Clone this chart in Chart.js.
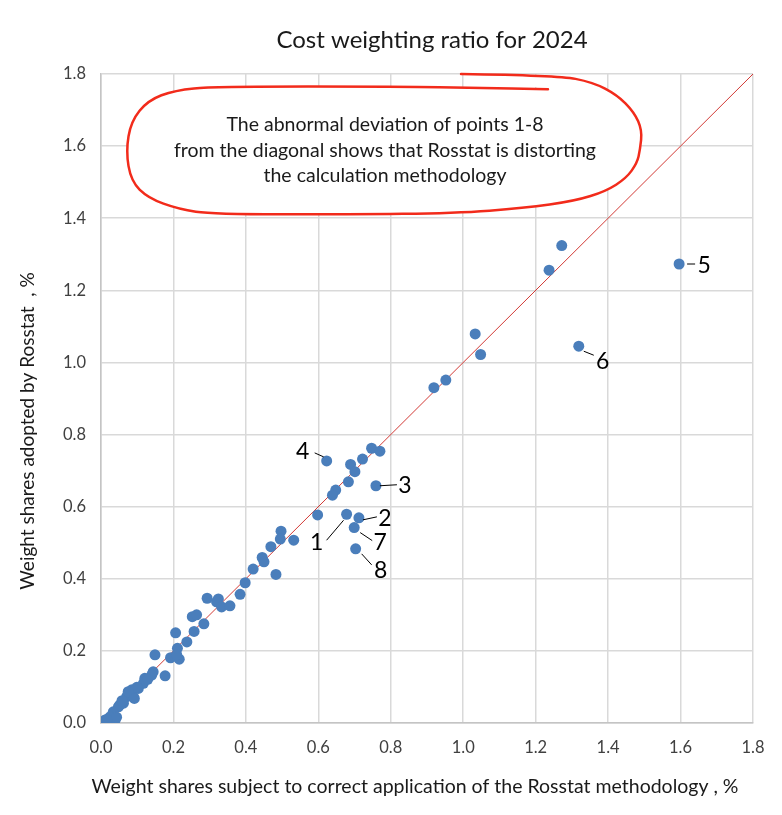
<!DOCTYPE html>
<html>
<head>
<meta charset="utf-8">
<script src="https://cdn.jsdelivr.net/npm/chart.js@4.4.1/dist/chart.umd.min.js"></script>
<style>
  html, body { margin: 0; padding: 0; background: #fff; }
  canvas { display: block; }
</style>
</head>
<body>
<canvas id="myChart" width="782" height="815" style="width:782px;height:815px"></canvas>
<script>
// Точки 1-8 (подписанные) идут первыми
const pointNames = ['1', '2', '3', '4', '5', '6', '7', '8'];

const correctShares = [
    0.678, 0.712, 0.759, 0.623, 1.596, 1.319, 0.699, 0.703,
    1.272, 1.237, 1.033, 1.048, 0.952, 0.919, 0.747, 0.770, 0.722, 0.689,
    0.701, 0.683, 0.648, 0.639, 0.598, 0.497, 0.495, 0.532, 0.469, 0.445,
    0.450, 0.420, 0.483, 0.398, 0.384, 0.324, 0.293, 0.319, 0.333, 0.356,
    0.252, 0.264, 0.284, 0.257, 0.206, 0.237, 0.211, 0.216, 0.192, 0.149,
    0.177, 0.144, 0.140, 0.121, 0.117, 0.103, 0.085, 0.089, 0.071, 0.062,
    0.048, 0.034, 0.025, 0.011, 0.003, 0.039, 0.209, 0.129, 0.099, 0.075,
    0.092, 0.052, 0.043, 0.016, 0.058
];

const rosstatShares = [
    0.579, 0.569, 0.658, 0.727, 1.273, 1.045, 0.542, 0.483,
    1.324, 1.256, 1.079, 1.022, 0.951, 0.930, 0.762, 0.754, 0.732, 0.717,
    0.697, 0.669, 0.646, 0.632, 0.577, 0.532, 0.510, 0.507, 0.489, 0.459,
    0.447, 0.427, 0.412, 0.389, 0.357, 0.344, 0.346, 0.336, 0.322, 0.325,
    0.295, 0.300, 0.275, 0.254, 0.250, 0.225, 0.207, 0.177, 0.181, 0.189,
    0.131, 0.142, 0.133, 0.124, 0.110, 0.096, 0.092, 0.073, 0.073, 0.055,
    0.045, 0.031, 0.017, 0.008, 0.001, 0.008, 0.189, 0.121, 0.099, 0.087,
    0.068, 0.050, 0.016, 0.010, 0.062
];

const diagonal = [0, 1.8];
const axisTicks = ['0.0', '0.2', '0.4', '0.6', '0.8', '1.0', '1.2', '1.4', '1.6', '1.8'];

const noteLines = [
    'The abnormal deviation of points 1-8',
    'from the diagonal shows that Rosstat is distorting',
    'the calculation methodology'
];

// Контур выноски (в единицах осей)
const noteOutline = [
    [0.994, 1.800], [1.262, 1.796], [1.358, 1.777], [1.425, 1.742], [1.472, 1.694],
    [1.494, 1.644], [1.488, 1.589], [1.480, 1.553], [1.450, 1.511], [1.394, 1.475],
    [1.309, 1.448], [1.168, 1.428], [0.977, 1.414], [0.690, 1.411], [0.309, 1.411],
    [0.215, 1.425], [0.130, 1.456], [0.083, 1.503], [0.069, 1.586], [0.083, 1.669],
    [0.130, 1.727], [0.204, 1.755], [0.309, 1.765], [0.834, 1.765], [1.033, 1.761],
    [1.234, 1.758]
];

const FONT = 'Lato, "Open Sans", sans-serif';

// смещения выносок подписей в пикселях: линия от, линия до, текст
const labelOffsets = [
    [-3, 6, -20, 26, -30, 28],
    [4, 2, 18, -1, 26, 1],
    [4, 0, 21, -1, 29, 0],
    [-3, -4, -12, -8, -24, -9],
    [8, 0, 16, 0, 25, 2],
    [5, 5, 15, 9, 24, 15],
    [6, 5, 18, 13, 26, 15],
    [6, 5, 16, 16, 25, 22]
];

function smoothPath(ctx, pts) {
    ctx.moveTo(pts[0][0], pts[0][1]);
    for (let i = 1; i < pts.length - 1; i++) {
        const mx = (pts[i][0] + pts[i + 1][0]) / 2;
        const my = (pts[i][1] + pts[i + 1][1]) / 2;
        ctx.quadraticCurveTo(pts[i][0], pts[i][1], mx, my);
    }
    const last = pts[pts.length - 1];
    ctx.lineTo(last[0], last[1]);
}

const decor = {
    id: 'decor',
    beforeDatasetsDraw(chart) {
        const ctx = chart.ctx;
        const sx = chart.scales.x, sy = chart.scales.y;
        const pts = noteOutline.map(p => [sx.getPixelForValue(p[0]), sy.getPixelForValue(p[1])]);
        ctx.save();
        ctx.beginPath();
        smoothPath(ctx, pts);
        ctx.closePath();
        ctx.fillStyle = '#ffffff';
        ctx.fill();
        ctx.beginPath();
        smoothPath(ctx, pts);
        ctx.strokeStyle = '#f22b1b';
        ctx.lineWidth = 2.5;
        ctx.lineJoin = 'round';
        ctx.lineCap = 'round';
        ctx.stroke();

        ctx.fillStyle = '#1a1a1a';
        ctx.font = '19.5px ' + FONT;
        ctx.textAlign = 'center';
        ctx.textBaseline = 'middle';
        const cx = sx.getPixelForValue(0.784);
        const cy = sy.getPixelForValue(1.658);
        noteLines.forEach((t, i) => ctx.fillText(t, cx, cy + i * 25.5));
        ctx.restore();
    },
    afterDatasetsDraw(chart) {
        const ctx = chart.ctx;
        const meta = chart.getDatasetMeta(0);
        ctx.save();
        ctx.strokeStyle = '#000';
        ctx.lineWidth = 1;
        ctx.fillStyle = '#000';
        ctx.font = '23px ' + FONT;
        ctx.textAlign = 'center';
        ctx.textBaseline = 'middle';
        pointNames.forEach((name, i) => {
            const el = meta.data[i];
            const o = labelOffsets[i];
            ctx.beginPath();
            ctx.moveTo(el.x + o[0], el.y + o[1]);
            ctx.lineTo(el.x + o[2], el.y + o[3]);
            ctx.stroke();
            ctx.fillText(name, el.x + o[4], el.y + o[5]);
        });
        ctx.restore();
    },
    afterDraw(chart) {
        const ctx = chart.ctx;
        ctx.save();
        ctx.fillStyle = '#1a1a1a';
        ctx.textAlign = 'center';
        ctx.textBaseline = 'middle';
        ctx.font = '24px ' + FONT;
        ctx.fillText('Cost weighting ratio for 2024', 432, 40);
        ctx.font = '19.5px ' + FONT;
        ctx.fillText('Weight shares subject to correct application of the Rosstat methodology , %', 415, 787);
        ctx.translate(28, 431);
        ctx.rotate(-Math.PI / 2);
        ctx.font = '19px ' + FONT;
        ctx.fillText('Weight shares adopted by Rosstat  , %', 0, 0);
        ctx.restore();
    }
};

const points = correctShares.map((x, i) => ({ x: x, y: rosstatShares[i] }));

const axisStyle = {
    type: 'linear',
    min: 0,
    max: 1.8,
    ticks: {
        stepSize: 0.2,
        font: { family: FONT, size: 16.5 },
        color: '#404040',
        callback: (v) => axisTicks[Math.round(v / 0.2)]
    },
    grid: { color: '#d9d9d9', lineWidth: 1.5, drawTicks: false },
    border: { color: '#c4c4c4', width: 1.5 }
};

const config = {
    type: 'scatter',
    data: {
        datasets: [{
            label: 'Shares',
            data: points,
            backgroundColor: '#4a7ebb',
            borderWidth: 0,
            pointRadius: 5.5,
            pointHoverRadius: 5.5,
            order: 1
        }, {
            type: 'line',
            label: 'Diagonal',
            data: diagonal.map(v => ({ x: v, y: v })),
            borderColor: '#d23a36',
            borderWidth: 1,
            pointRadius: 0,
            fill: false,
            order: 2
        }]
    },
    options: {
        responsive: false,
        animation: false,
        devicePixelRatio: 1,
        layout: { padding: { top: 74, right: 29, bottom: 0, left: 0 } },
        plugins: {
            legend: { display: false },
            title: { display: false },
            tooltip: { enabled: false }
        },
        scales: {
            x: Object.assign({}, axisStyle, {
                ticks: Object.assign({}, axisStyle.ticks, { padding: 15, maxRotation: 0 }),
                afterFit: (scale) => { scale.height = 92; }
            }),
            y: Object.assign({}, axisStyle, {
                ticks: Object.assign({}, axisStyle.ticks, { padding: 15 }),
                afterFit: (scale) => { scale.width = 101; }
            })
        }
    },
    plugins: [decor]
};

let chart = new Chart(document.getElementById('myChart'), config);
</script>
</body>
</html>
